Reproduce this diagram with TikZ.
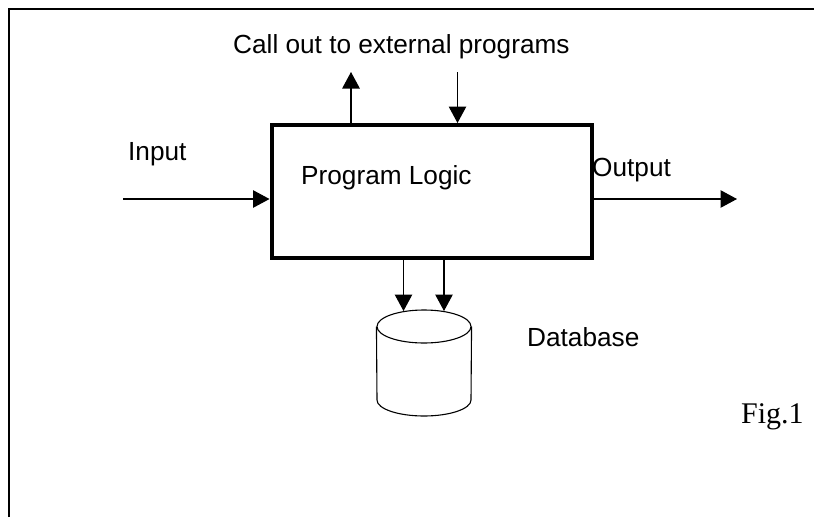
\documentclass[tikz,border=0pt]{standalone}
\usepackage{fontspec}
\setmainfont{Liberation Sans}
\newfontfamily\figfont{Liberation Serif}
\usetikzlibrary{arrows.meta, shapes.geometric}
\tikzstyle{label} = [inner sep=0pt, anchor=base west, font=\fontsize{26.2}{30}\selectfont]
\tikzstyle{flow} = [line width=1.1pt, -{Triangle[length=16.5pt, width=17.5pt]}]

\begin{document}
\begin{tikzpicture}[x=1pt, y=-1pt]
        \useasboundingbox (0,0) rectangle (814,517);
        % outer frame, open at the right and at the bottom
        \coordinate (fa) at (9,517);
        \coordinate (fb) at (9,9);
        \coordinate (fc) at (814,9);
        \draw [line width=2pt] (fa) -- (fb) -- (fc);
        \node (logic) [draw, line width=4pt, minimum width=320pt, minimum height=133pt, inner sep=0pt] at (431.5,191.5) {};
        \node (db) [draw, line width=1.1pt, ellipse, minimum width=94pt, minimum height=33pt, inner sep=0pt] at (424,326.5) {};
        \coordinate (dbw) at (377,400);
        \draw [line width=1.1pt] (db.west) -- (dbw) arc [start angle=180, end angle=360, x radius=47pt, y radius=16pt] -- (db.east);
        \node (call) [label] at (233,53.5) {Call out to external programs};
        \node (input) [label] at (128,160) {Input};
        \node (prog) [label] at (301,184) {Program Logic};
        \node (output) [label] at (592,176) {Output};
        \node (base) [label] at (527,346) {Database};
        \node (fig) [label, font=\figfont\fontsize{30}{34}\selectfont] at (741,423) {Fig.1};
        \coordinate (in) at (123,199);
        \coordinate (out) at (737,199);
        \coordinate (up) at (351,72);
        \coordinate (down) at (457.5,72);
        \coordinate (dl) at (403.5,311);
        \coordinate (dr) at (444,311);
        \draw [flow] (in) -- (in -| logic.west);
        \draw [flow] (out -| logic.east) -- (out);
        \draw [flow] (up |- logic.north) -- (up);
        \draw [flow] (down) -- (down |- logic.north);
        \draw [flow] (dl |- logic.south) -- (dl);
        \draw [flow] (dr |- logic.south) -- (dr);
    \end{tikzpicture}
\end{document}
